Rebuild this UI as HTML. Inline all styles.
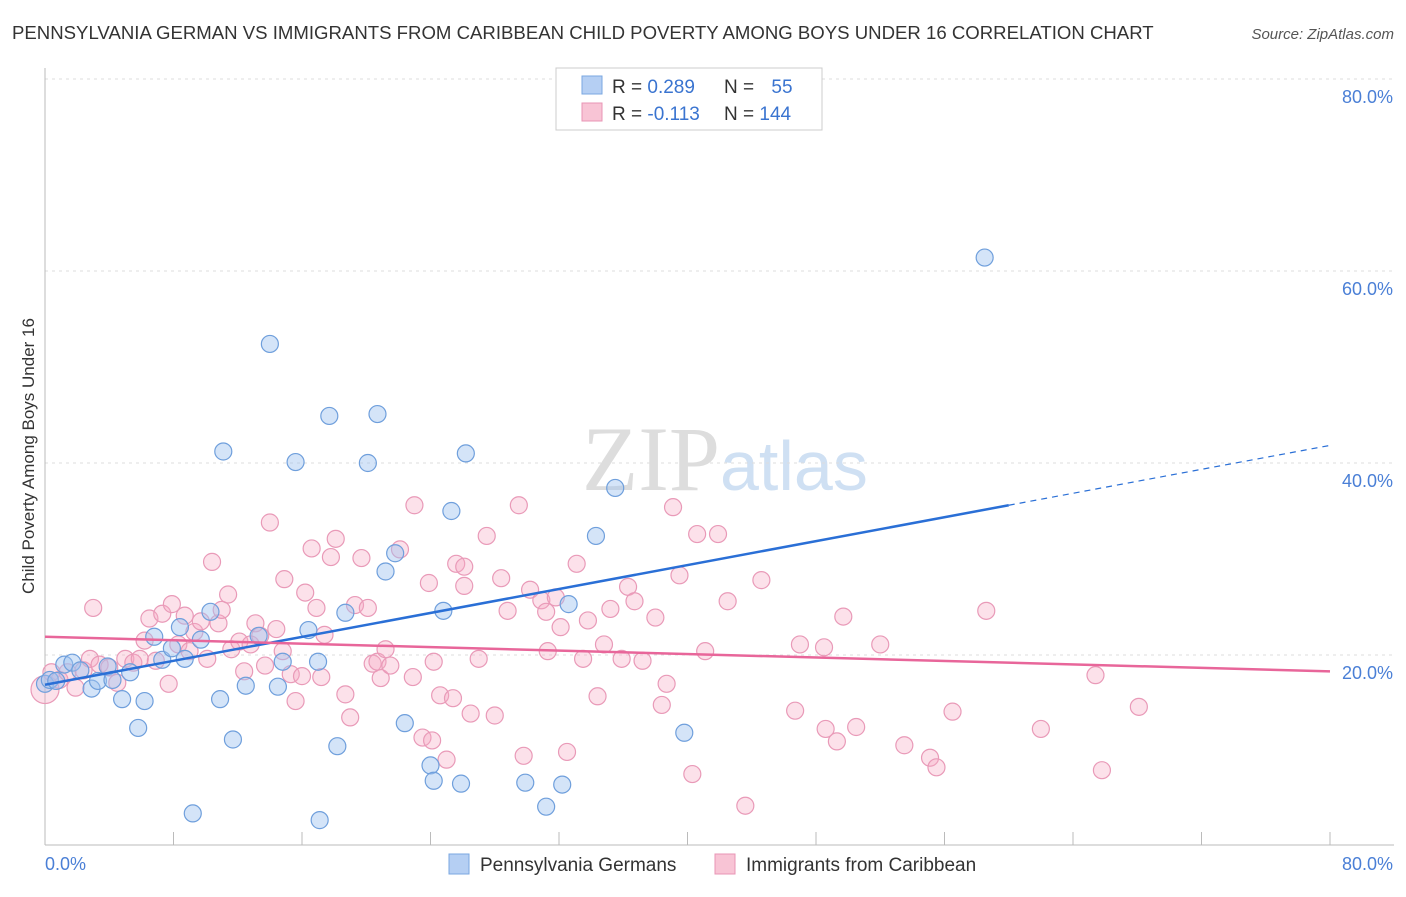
<!DOCTYPE html>
<html><head><meta charset="utf-8"><style>
body{margin:0;background:#fff;font-family:"Liberation Sans",sans-serif;}
</style></head><body>
<svg width="1406" height="892" xmlns="http://www.w3.org/2000/svg" font-family="Liberation Sans, sans-serif">
<text x="12" y="39" font-size="18.6" fill="#333">PENNSYLVANIA GERMAN VS IMMIGRANTS FROM CARIBBEAN CHILD POVERTY AMONG BOYS UNDER 16 CORRELATION CHART</text>
<text x="1394" y="39" font-size="15" fill="#555" font-style="italic" text-anchor="end">Source: ZipAtlas.com</text>
<text x="720" y="490" font-size="92" fill="#ddd" text-anchor="end" font-family="Liberation Serif, serif">ZIP</text>
<text x="720" y="490" font-size="70" fill="#cfe0f3">atlas</text>
<g id="grid"></g>
<g id="axes"></g>
<g id="pts"></g>
<g id="trends"></g>
<text transform="translate(34,456) rotate(-90)" font-size="17" fill="#333" text-anchor="middle">Child Poverty Among Boys Under 16</text>
<g>
<rect x="556" y="68" width="266" height="62" fill="#fff" stroke="#ccc"/>
<rect x="582" y="76" width="20" height="18" fill="#b5cff3" stroke="#7aa7e0"/>
<rect x="582" y="103" width="20" height="18" fill="#f8c4d5" stroke="#e895b5"/>
<text x="612" y="93" font-size="19" fill="#333">R = <tspan fill="#3a74d0">0.289</tspan></text>
<text x="724" y="93" font-size="19" fill="#333">N = <tspan fill="#3a74d0" dx="12">55</tspan></text>
<text x="612" y="120" font-size="19" fill="#333">R = <tspan fill="#3a74d0">-0.113</tspan></text>
<text x="724" y="120" font-size="19" fill="#333">N = <tspan fill="#3a74d0">144</tspan></text>
</g>
<g>
<rect x="449" y="854" width="20" height="20" fill="#b5cff3" stroke="#7aa7e0"/>
<text x="480" y="871" font-size="19" fill="#333">Pennsylvania Germans</text>
<rect x="715" y="854" width="20" height="20" fill="#f8c4d5" stroke="#e895b5"/>
<text x="746" y="871" font-size="19" fill="#333">Immigrants from Caribbean</text>
</g>
</svg>
<script>
const yTicks=[20,40,60,80];
const xTickLabels=["0.0%","80.0%"];
const blueTrend=[16.9,35.6];   // y at x=0 and x=60
const pinkTrend=[21.9,18.3];   // y at x=0 and x=80
const blueX=[0,0.3,0.7,1.2,1.7,2.2,2.9,3.3,3.9,4.2,4.8,5.3,5.8,6.2,6.8,7.3,7.9,8.4,8.7,9.7,10.3,10.9,11.1,11.7,12.5,13.3,14,14.5,14.8,15.6,16.4,17,17.1,17.7,18.2,18.7,20.1,20.7,21.2,21.8,22.4,24,24.2,24.8,25.3,25.9,26.2,29.9,31.2,32.2,32.6,34.3,35.5,39.8,58.5,9.2];
const blueY=[17,17.4,17.3,19,19.2,18.4,16.5,17.3,18.8,17.4,15.4,18.2,12.4,15.2,21.9,19.5,20.7,22.9,19.6,21.6,24.5,15.4,41.2,11.2,16.8,22,52.4,16.7,19.3,40.1,22.6,19.3,2.8,44.9,10.5,24.4,40,45.1,28.7,30.6,12.9,8.5,6.9,24.6,35,6.6,41,6.7,4.2,6.5,25.3,32.4,37.4,11.9,61.4,3.5];
const pinkX=[0,0.4,0.9,1.4,1.9,2.4,2.8,3,3.4,4,4.5,5,5.5,5.9,6.2,6.5,6.9,7.3,7.7,7.9,8.3,8.7,9,9.3,9.7,10.1,10.4,10.8,11,11.4,11.6,12.1,12.4,12.8,13.1,13.4,13.7,14,14.4,14.8,14.9,15.3,15.6,16,16.2,16.6,16.9,17.2,17.4,17.8,18.1,18.7,19,19.3,19.7,20.1,20.4,20.7,20.9,21.2,21.5,22.1,22.9,23,23.5,23.9,24.1,24.2,24.6,25,25.4,25.6,26.1,26.1,26.5,27,27.5,28,28.4,28.8,29.5,29.8,30.2,30.9,31.2,31.3,31.8,32.1,32.5,33.1,33.5,33.8,34.4,34.8,35.2,35.9,36.3,36.7,37.2,38,38.4,38.7,39.1,39.5,40.3,40.6,41.1,41.9,42.5,43.6,44.6,46.7,47,48.5,49.3,49.7,50.5,52,53.5,55.1,55.5,56.5,58.6,62,65.4,65.8,68.1,48.6];
const pinkY=[16.4,18.2,17.4,18.2,16.6,18.4,19.6,24.9,19,18.7,17.1,19.6,19.2,19.6,21.5,23.8,19.4,24.3,17,25.3,21.1,24.1,20.4,22.4,23.5,19.6,29.7,23.3,24.7,26.3,20.6,21.4,18.3,21.1,23.3,22,18.9,33.8,22.7,20.4,27.9,18,15.2,17.8,26.5,31.1,24.9,17.7,22.1,30.2,32.1,15.9,13.5,25.2,30.1,24.9,19.1,19.3,17.6,20.6,18.9,31,17.7,35.6,11.4,27.5,11.1,19.3,15.8,9.1,15.5,29.5,29.2,27.2,13.9,19.6,32.4,13.7,28,24.6,35.6,9.5,26.8,25.7,24.5,20.4,26,22.9,9.9,29.5,19.6,23.6,15.7,21.1,24.8,19.6,27.1,25.6,19.4,23.9,14.8,17,35.4,28.3,7.6,32.6,20.4,32.6,25.6,4.3,27.8,14.2,21.1,20.8,11,24,12.5,21.1,10.6,9.3,8.3,14.1,24.6,12.3,17.9,8,14.6,12.3,21.3,22.1,24.7,24.7,6.2];
const X=v=>45+v/80*1285, Y=v=>847-v/20*192;
const NS="http://www.w3.org/2000/svg";
function mk(tag,a,parent){const e=document.createElementNS(NS,tag);for(const k in a)e.setAttribute(k,a[k]);document.getElementById(parent).appendChild(e);return e;}
yTicks.forEach(t=>{
 const l=mk('line',{x1:45,x2:1394,y1:Y(t),y2:Y(t),stroke:'#ddd','stroke-dasharray':'3,4'},'grid');
 
 
 const tx=mk('text',{x:1393,y:Y(t)+24,'font-size':18,fill:'#4a7fd6','text-anchor':'end'},'grid');
 tx.textContent=t.toFixed(1)+'%';
 
 
});
const ax=mk('line',{x1:45,x2:1394,y1:845,y2:845,stroke:'#bbb'},'axes');


const ay=mk('line',{x1:45,x2:45,y1:68,y2:845,stroke:'#bbb'},'axes');


for(let i=0;i<=10;i++){const t=mk('line',{x1:X(i*8),x2:X(i*8),y1:845,y2:832,stroke:'#bbb'},'axes');
 
 }
const xl0=mk('text',{x:45,y:870,'font-size':18,fill:'#4a7fd6'},'axes');xl0.textContent=xTickLabels[0];


const xl1=mk('text',{x:1393,y:870,'font-size':18,fill:'#4a7fd6','text-anchor':'end'},'axes');xl1.textContent=xTickLabels[1];


pinkX.forEach((x,i)=>{const c=mk('circle',{cx:X(x),cy:Y(pinkY[i]),r:i==0?14:8.5,fill:'rgba(245,170,195,0.35)',stroke:'#e99ab8','stroke-width':1.2},'pts');
 
 });
blueX.forEach((x,i)=>{const c=mk('circle',{cx:X(x),cy:Y(blueY[i]),r:8.5,fill:'rgba(160,196,240,0.45)',stroke:'#6f9fdc','stroke-width':1.2},'pts');
 
 });
const bs=(blueTrend[1]-blueTrend[0])/60;
const t1=mk('line',{x1:X(0),y1:Y(blueTrend[0]),x2:X(60),y2:Y(blueTrend[1]),stroke:'#2a6fd6','stroke-width':2.5},'trends');


const t2=mk('line',{x1:X(60),y1:Y(blueTrend[1]),x2:X(80),y2:Y(blueTrend[0]+bs*80),stroke:'#2a6fd6','stroke-width':1.2,'stroke-dasharray':'6,5'},'trends');


const t3=mk('line',{x1:X(0),y1:Y(pinkTrend[0]),x2:X(80),y2:Y(pinkTrend[1]),stroke:'#e8669a','stroke-width':2.5},'trends');


</script>
</body></html>
